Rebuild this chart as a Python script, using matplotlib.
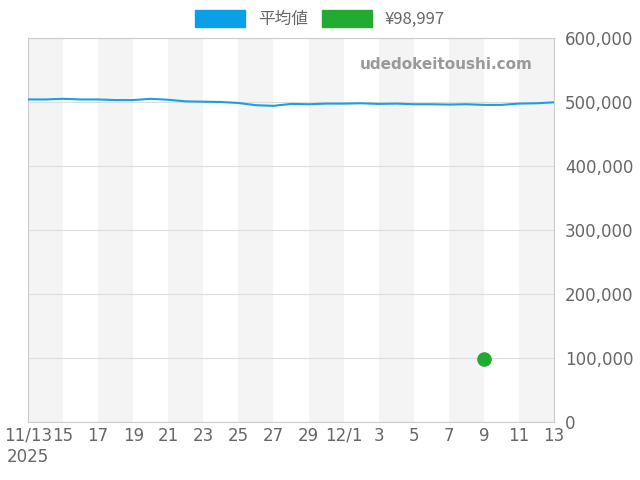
import matplotlib
matplotlib.use("Agg")
import matplotlib.pyplot as plt
import matplotlib.ticker as mt
from matplotlib.patches import Patch

plt.rcParams['font.family'] = ['DejaVu Sans', 'Noto Sans CJK JP']

days = list(range(31))  # 11/13 .. 12/13
avg = [504000, 504000, 505000, 504000, 504000, 503000, 503000, 505000, 503500, 501000,
       500500, 500000, 498500, 495000, 494000, 497000, 496500, 497500, 497500, 498000,
       497000, 497500, 496500, 496500, 496000, 496500, 495500, 495500, 497500, 498000, 499500]
point_day = 26
point_val = 98997
tick_pos = [0, 2, 4, 6, 8, 10, 12, 14, 16, 18, 20, 22, 24, 26, 28, 30]
tick_lab = ['11/13\n2025', '15', '17', '19', '21', '23', '25', '27', '29', '12/1',
            '3', '5', '7', '9', '11', '13']

fig = plt.figure(figsize=(6.4, 4.8), dpi=100)
ax = fig.add_axes([28/640, 1-422/480, 526/640, 384/480])
for s in range(0, 30, 4):
    ax.axvspan(s, s+2, color='#f4f4f4', zorder=0, lw=0)
ax.plot(days, avg, color='#1a9fdf', lw=1.5, zorder=3)
ax.scatter([point_day], [point_val], color='#22aa33', s=90, zorder=4)
ax.set_xlim(0, 30)
ax.set_ylim(0, 600000)
ax.yaxis.tick_right()
ax.yaxis.set_major_formatter(mt.FuncFormatter(lambda v, p: f'{int(v):,}'))
ax.set_yticks(range(0, 600001, 100000))
ax.set_xticks(tick_pos)
ax.set_xticklabels(tick_lab)
ax.tick_params(colors='#666666', labelsize=12, length=0)
ax.tick_params(axis='y', pad=8)
ax.grid(axis='y', color='#dddddd', lw=0.8)
for sp in ax.spines.values():
    sp.set_color('#cccccc')
ax.text(0.96, 0.93, 'udedokeitoushi.com', transform=ax.transAxes, ha='right', va='center',
        color='#999999', fontsize=11, fontweight='bold')
fig.legend(handles=[Patch(color='#0aa0e8', label='平均値'), Patch(color='#22aa33', label='¥98,997')],
           loc='upper center', bbox_to_anchor=(0.5, 1.01), ncol=2, frameon=False,
           fontsize=12, labelcolor='#666666', handlelength=3, handleheight=1.2, columnspacing=0.8,
           prop={'family': ['Noto Sans CJK JP', 'DejaVu Sans'], 'size': 12})
fig.savefig('out.png')
